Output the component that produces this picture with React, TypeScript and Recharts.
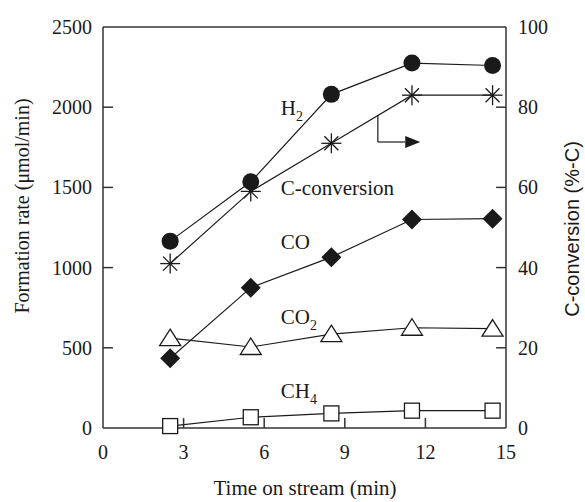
import { LineChart, Line, XAxis, YAxis, ReferenceLine, ReferenceDot, Label } from 'recharts';

// time on stream (min)
const times = [2.5, 5.5, 8.5, 11.5, 14.5];
// formation rates (umol/min)
const h2 = [1165, 1535, 2080, 2275, 2260];
const co = [435, 875, 1065, 1300, 1305];
const co2 = [560, 505, 585, 625, 620];
const ch4 = [12, 67, 91, 108, 108];
// carbon conversion (%-C), right axis
const cConversion = [41, 59, 71, 83, 83];

const xTicks = [0, 3, 6, 9, 12, 15];
const leftTicks = [0, 500, 1000, 1500, 2000, 2500];
const rightTicks = [0, 20, 40, 60, 80, 100];

const data = times.map((t, i) => ({
  t,
  h2: h2[i],
  conv: cConversion[i],
  co: co[i],
  co2: co2[i],
  ch4: ch4[i],
}));

const INK = '#1a1a1a';
const AXIS = '#333';
const SERIF = '"Liberation Serif", "Times New Roman", serif';

// inner tick lengths in axis units (about 10px)
const X_TICK = 0.37;
const Y_TICK_L = 62;
const Y_TICK_R = 2.5;

const tickText = (anchor: 'start' | 'middle' | 'end') => (props: any) => (
  <text x={props.x} y={props.y} dy="0.35em" textAnchor={anchor} fontSize={20} fill={INK} fontFamily={SERIF}>
    {props.payload.value}
  </text>
);

const dotCircle = (p: any) => <circle key={p.index} cx={p.cx} cy={p.cy} r={8.5} fill={INK} />;

const dotStar = (p: any) => {
  const { cx, cy } = p;
  const a = 10;
  const d = 7;
  return (
    <g key={p.index} stroke={INK} strokeWidth={1.3}>
      <line x1={cx - a} x2={cx + a} y1={cy} y2={cy} />
      <line x1={cx} x2={cx} y1={cy - a} y2={cy + a} />
      <line x1={cx - d} x2={cx + d} y1={cy - d} y2={cy + d} />
      <line x1={cx - d} x2={cx + d} y1={cy + d} y2={cy - d} />
    </g>
  );
};

const dotDiamond = (p: any) => {
  const { cx, cy } = p;
  return (
    <path
      key={p.index}
      d={`M${cx},${cy - 10} L${cx + 10},${cy} L${cx},${cy + 10} L${cx - 10},${cy} Z`}
      fill={INK}
    />
  );
};

const dotTriangle = (p: any) => {
  const { cx, cy } = p;
  return (
    <path
      key={p.index}
      d={`M${cx},${cy - 9} L${cx + 10.5},${cy + 7.5} L${cx - 10.5},${cy + 7.5} Z`}
      fill="#fff"
      stroke={INK}
      strokeWidth={1.3}
    />
  );
};

const dotSquare = (p: any) => (
  <rect key={p.index} x={p.cx - 7.5} y={p.cy - 7.5} width={15} height={15} fill="#fff" stroke={INK} strokeWidth={1.3} />
);

const textLabel = (main: string, sub?: string) => (p: any) => (
  <text x={p.cx} y={p.cy} dy="0.35em" fontSize={21} fill={INK} fontFamily={SERIF}>
    {main}
    {sub && (
      <tspan fontSize={14} dy={6}>
        {sub}
      </tspan>
    )}
  </text>
);

const arrowHead = (p: any) => (
  <path d={`M${p.cx},${p.cy - 6} L${p.cx + 15},${p.cy} L${p.cx},${p.cy + 6} Z`} fill={INK} />
);

const inner = (arr: number[]) => arr.slice(1, -1);

export default function App() {
  return (
    <div style={{ position: 'absolute', left: 0, top: 0, background: '#fff', fontFamily: SERIF }}>
      <LineChart width={585} height={502} data={data} margin={{ top: 27, right: 0, bottom: 0, left: 0 }}>
        <XAxis
          dataKey="t"
          type="number"
          domain={[0, 15]}
          ticks={xTicks}
          allowDataOverflow
          height={74}
          tickLine={false}
          tickSize={0}
          tickMargin={24}
          tick={tickText('middle')}
          axisLine={{ stroke: AXIS, strokeWidth: 1.5 }}
        >
          <Label
            content={() => (
              <text x={305} y={488} dy="0.35em" textAnchor="middle" fontSize={21} fill={INK} fontFamily={SERIF}>
                Time on stream (min)
              </text>
            )}
          />
        </XAxis>
        <YAxis
          yAxisId="left"
          domain={[0, 2500]}
          ticks={leftTicks}
          width={103}
          tickLine={false}
          tickSize={0}
          tickMargin={11}
          tick={tickText('end')}
          axisLine={{ stroke: AXIS, strokeWidth: 1.5 }}
        >
          <Label
            content={() => (
              <text
                x={22}
                y={206}
                dy="0.35em"
                textAnchor="middle"
                fontSize={20}
                fill={INK}
                fontFamily={SERIF}
                transform="rotate(-90, 22, 206)"
              >
                Formation rate (μmol/min)
              </text>
            )}
          />
        </YAxis>
        <YAxis
          yAxisId="right"
          orientation="right"
          domain={[0, 100]}
          ticks={rightTicks}
          width={79}
          tickLine={false}
          tickSize={0}
          tickMargin={12}
          tick={tickText('start')}
          axisLine={{ stroke: AXIS, strokeWidth: 1.5 }}
        >
          <Label
            content={() => (
              <text
                x={572}
                y={229}
                dy="0.35em"
                textAnchor="middle"
                fontSize={20}
                fill={INK}
                fontFamily='"Liberation Sans", Arial, sans-serif'
                transform="rotate(-90, 572, 229)"
              >
                C-conversion (%-C)
              </text>
            )}
          />
        </YAxis>
        <ReferenceLine yAxisId="left" y={2500} stroke={AXIS} strokeWidth={1.5} />

        {/* inward ticks */}
        {inner(leftTicks).map((v) => (
          <ReferenceLine
            key={`l${v}`}
            yAxisId="left"
            segment={[{ x: 0, y: v }, { x: X_TICK, y: v }]}
            stroke={AXIS}
            strokeWidth={1.5}
          />
        ))}
        {inner(rightTicks).map((v) => (
          <ReferenceLine
            key={`r${v}`}
            yAxisId="right"
            segment={[{ x: 15 - X_TICK, y: v }, { x: 15, y: v }]}
            stroke={AXIS}
            strokeWidth={1.5}
          />
        ))}
        {inner(xTicks).map((v) => (
          <ReferenceLine
            key={`x${v}`}
            yAxisId="left"
            segment={[{ x: v, y: 0 }, { x: v, y: Y_TICK_L }]}
            stroke={AXIS}
            strokeWidth={1.5}
          />
        ))}

        <ReferenceLine
          yAxisId="left"
          segment={[{ x: 10.23, y: 1948 }, { x: 10.23, y: 1783 }]}
          stroke={INK}
          strokeWidth={1.2}
        />
        <ReferenceLine
          yAxisId="left"
          segment={[{ x: 10.23, y: 1783 }, { x: 11.25, y: 1783 }]}
          stroke={INK}
          strokeWidth={1.2}
        />
        <ReferenceDot yAxisId="left" x={11.25} y={1783} r={0} shape={arrowHead} />

        <ReferenceDot yAxisId="left" x={6.62} y={2000} r={0} shape={textLabel('H', '2')} />
        <ReferenceDot yAxisId="left" x={6.62} y={1496} r={0} shape={textLabel('C-conversion')} />
        <ReferenceDot yAxisId="left" x={6.62} y={1160} r={0} shape={textLabel('CO')} />
        <ReferenceDot yAxisId="left" x={6.62} y={692} r={0} shape={textLabel('CO', '2')} />
        <ReferenceDot yAxisId="left" x={6.62} y={231} r={0} shape={textLabel('CH', '4')} />

        <Line yAxisId="right" dataKey="conv" stroke={INK} strokeWidth={1.2} dot={dotStar} isAnimationActive={false} />
        <Line yAxisId="left" dataKey="h2" stroke={INK} strokeWidth={1.2} dot={dotCircle} isAnimationActive={false} />
        <Line yAxisId="left" dataKey="co" stroke={INK} strokeWidth={1.2} dot={dotDiamond} isAnimationActive={false} />
        <Line yAxisId="left" dataKey="co2" stroke={INK} strokeWidth={1.2} dot={dotTriangle} isAnimationActive={false} />
        <Line yAxisId="left" dataKey="ch4" stroke={INK} strokeWidth={1.2} dot={dotSquare} isAnimationActive={false} />
      </LineChart>
    </div>
  );
}
